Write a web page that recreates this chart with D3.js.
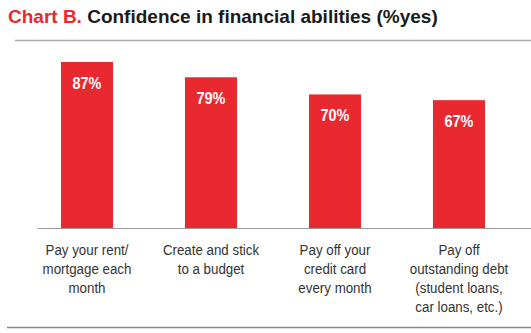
<!DOCTYPE html>
<html><head><meta charset="utf-8">
<script src="https://cdn.jsdelivr.net/npm/d3@7"></script>
<style>body{margin:0;background:#fff}svg{display:block}</style>
</head><body>
<script>
const categories = [
  ["Pay your rent/", "mortgage each", "month"],
  ["Create and stick", "to a budget"],
  ["Pay off your", "credit card", "every month"],
  ["Pay off", "outstanding debt", "(student loans,", "car loans, etc.)"]
];
const values = [87, 79, 70, 67];
const valueLabels = ["87%", "79%", "70%", "67%"];

const W = 531, H = 333;
const svg = d3.select("body").append("svg").attr("width", W).attr("height", H);
const red = "#e8292f";

const t = svg.append("text").attr("x", 8).attr("y", 23)
  .attr("font-family", "Liberation Sans, Arial, sans-serif").attr("font-size", 19).attr("font-weight", "bold");
t.append("tspan").attr("fill", red).text("Chart B. ");
t.append("tspan").attr("fill", "#1a1a1a").text("Confidence in financial abilities (%yes)");

svg.append("line").attr("x1", 15).attr("x2", W).attr("y1", 40.5).attr("y2", 40.5)
  .attr("stroke", "#aaa").attr("stroke-width", 1.5);

const x = d3.scaleBand().domain(d3.range(values.length)).range([25, 521])
  .paddingInner(0.58).paddingOuter(0.29);
const y = d3.scaleLinear().domain([0, 100]).range([228, 37.2]);

svg.selectAll("rect.bar").data(values).join("rect").attr("class", "bar")
  .attr("x", (d, i) => x(i)).attr("width", x.bandwidth())
  .attr("y", d => y(d)).attr("height", d => y(0) - y(d)).attr("fill", red);

svg.selectAll("g.val").data(values).join("g").attr("class", "val")
  .attr("transform", (d, i) => `translate(${x(i) + x.bandwidth() / 2},${y(d) + 26.5}) scale(0.85,1)`)
  .append("text")
  .attr("text-anchor", "middle").attr("fill", "#fff")
  .attr("font-family", "Liberation Sans, Arial, sans-serif").attr("font-size", 17).attr("font-weight", "bold")
  .text((d, i) => valueLabels[i]);

svg.append("line").attr("x1", 38).attr("x2", W).attr("y1", y(0) + 0.5).attr("y2", y(0) + 0.5)
  .attr("stroke", "#999").attr("stroke-width", 1);

const lab = svg.selectAll("g.cat").data(categories).join("g").attr("class", "cat")
  .attr("transform", (d, i) => `translate(${x(i) + x.bandwidth() / 2},0) scale(0.86,1)`)
  .append("text")
  .attr("text-anchor", "middle").attr("fill", "#333")
  .attr("font-family", "Liberation Sans, Arial, sans-serif").attr("font-size", 15.5);
lab.each(function(lines) {
  d3.select(this).selectAll("tspan").data(lines).join("tspan")
    .attr("x", 0).attr("y", (l, j) => 255 + j * 19).text(l => l);
});

svg.append("line").attr("x1", 7).attr("x2", W).attr("y1", 327.5).attr("y2", 327.5)
  .attr("stroke", "#888").attr("stroke-width", 1.5);
</script>
</body></html>
